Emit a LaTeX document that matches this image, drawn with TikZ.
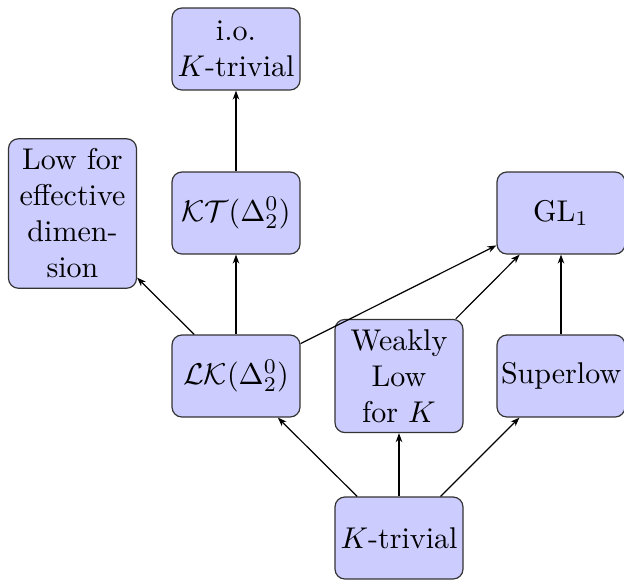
\documentclass[tikz,border=0pt]{standalone}
\usetikzlibrary{arrows.meta}
\begin{document}
\begin{tikzpicture}[x=0.3333pt,y=-0.3333pt,
  box/.style={draw=black!80, fill=blue!20, rounded corners=3.3pt, text width=40pt,
    align=center, inner xsep=1.33pt, inner ysep=3.33pt, minimum height=27.33pt},
  arr/.style={-{Stealth[length=3pt,width=2.2pt]}, line width=0.4pt}]
\useasboundingbox (0,0) rectangle (624,583);
\node[box] (io) at (236,49) {i.o.\\$K$-trivial};
\node[box] (low) at (72.5,213.5) {Low for\\effective\\dimen-\\sion};
\node[box] (kt) at (236,213) {$\mathcal{KT}(\Delta^0_2)$};
\node[box] (gl) at (561,213) {$\mathrm{GL}_1$};
\node[box] (lk) at (236,376) {$\mathcal{LK}(\Delta^0_2)$};
\node[box] (wl) at (399,376) {Weakly\\Low\\for $K$};
\node[box] (sl) at (561,376) {Superlow};
\node[box] (kv) at (399,538) {$K$-trivial};
\draw[arr] (kv) -- (lk);
\draw[arr] (kv) -- (wl);
\draw[arr] (kv) -- (sl);
\draw[arr] (lk) -- (low);
\draw[arr] (lk) -- (kt);
\draw[arr] (lk) -- (gl);
\draw[arr] (kt) -- (io);
\draw[arr] (wl) -- (gl);
\draw[arr] (sl) -- (gl);
\end{tikzpicture}
\end{document}
